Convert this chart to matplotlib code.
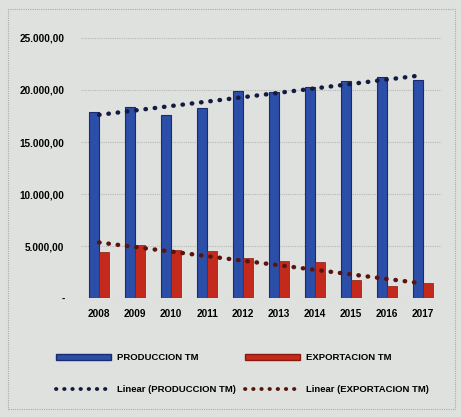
import matplotlib
matplotlib.use("Agg")
import matplotlib.pyplot as plt
from matplotlib.patches import Patch, Rectangle
from matplotlib.lines import Line2D
from matplotlib.ticker import FuncFormatter
import numpy as np

plt.rcParams['font.family'] = ['Liberation Sans Narrow', 'Liberation Sans', 'DejaVu Sans']

# datos por año (toneladas métricas)
anios = ["2008", "2009", "2010", "2011", "2012", "2013", "2014", "2015", "2016", "2017"]
produccion = [17900, 18370, 17600, 18270, 19900, 19800, 20300, 20860, 21250, 20960]
exportacion = [4420, 5100, 4600, 4500, 3850, 3550, 3450, 1730, 1150, 1440]

azul = "#2b4ea8"
rojo = "#c42a1c"
fondo = "#dfe1df"
punteado = (0, (0.1, 2.0))

fig = plt.figure(figsize=(4.61, 4.17), dpi=100, facecolor=fondo)
ax = fig.add_axes([0.176, 0.285, 0.781, 0.624])
ax.set_facecolor(fondo)

x = np.arange(len(anios))
w = 0.28
ax.bar(x - w / 2, produccion, w, color=azul, edgecolor="#1a2a70", linewidth=0.8, zorder=2)
ax.bar(x + w / 2, exportacion, w, color=rojo, edgecolor="#8a1a10", linewidth=0.5, zorder=2)

# lineas de tendencia (ajuste lineal)
tp = np.polyval(np.polyfit(x, produccion, 1), x)
te = np.polyval(np.polyfit(x, exportacion, 1), x)
ax.plot(x, tp, linestyle=punteado, color="#151a40", linewidth=3.2,
        dash_capstyle="round", zorder=3)
ax.plot(x, te, linestyle=punteado, color="#5a1410", linewidth=3.2,
        dash_capstyle="round", zorder=3)

ax.set_xlim(-0.5, len(anios) - 0.5)
ax.set_ylim(0, 25000)
ax.set_yticks(range(0, 25001, 5000))


def fmt(v, pos):
    if v == 0:
        return "-"
    return "{:,.2f}".format(v).replace(",", "X").replace(".", ",").replace("X", ".")


ax.yaxis.set_major_formatter(FuncFormatter(fmt))
ax.set_xticks(x)
ax.set_xticklabels(anios)
ax.tick_params(length=0, labelsize=7.2, pad=8)
ax.tick_params(axis="y", pad=12)
for t in ax.get_xticklabels() + ax.get_yticklabels():
    t.set_fontweight("bold")

ax.grid(axis="y", color="#b4b8b4", linestyle=(0, (1, 1)), linewidth=0.8, zorder=0)
for s in ax.spines.values():
    s.set_visible(False)

handles = [
    Patch(facecolor=azul, edgecolor="#1a2a70", label="PRODUCCION TM"),
    Line2D([], [], linestyle=punteado, color="#151a40", linewidth=2.8,
           dash_capstyle="round", label="Linear (PRODUCCION TM)"),
    Patch(facecolor=rojo, edgecolor="#8a1a10", label="EXPORTACION TM"),
    Line2D([], [], linestyle=punteado, color="#5a1410", linewidth=2.8,
           dash_capstyle="round", label="Linear (EXPORTACION TM)"),
]
leg = fig.legend(handles=handles, ncol=2, loc="center", bbox_to_anchor=(0.526, 0.104),
                 frameon=False, fontsize=6.8, handlelength=5.8, handleheight=0.6,
                 columnspacing=1.0, labelspacing=2.4, handletextpad=0.6)
for t in leg.get_texts():
    t.set_fontweight("bold")

# marco punteado del grafico
fig.patches.append(Rectangle((0.018, 0.018), 0.968, 0.96, transform=fig.transFigure,
                             fill=False, edgecolor="#a8aca8", linestyle=(0, (1, 1)),
                             linewidth=0.8))

fig.savefig("out.png", dpi=100, facecolor=fondo)
